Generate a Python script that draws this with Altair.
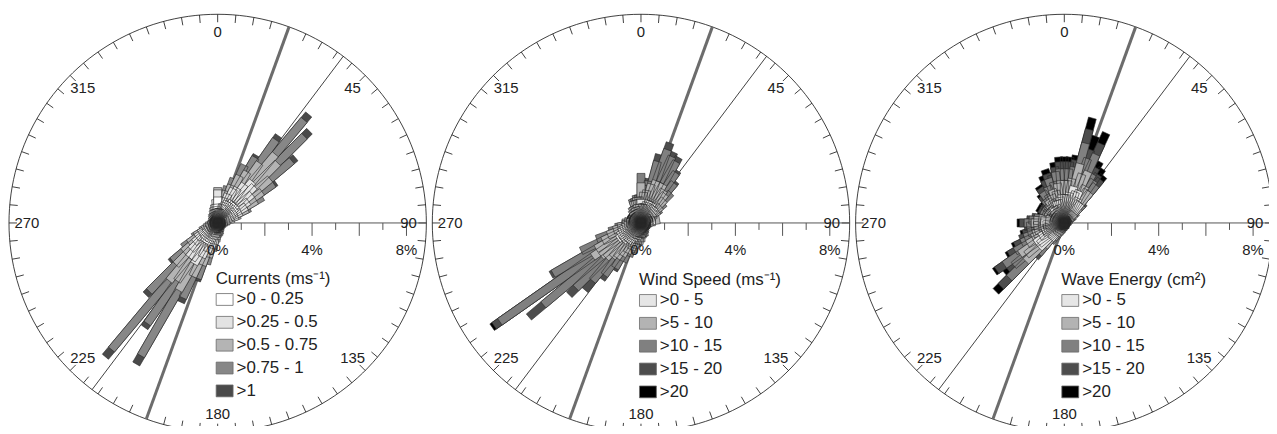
import altair as alt
import pandas as pd

# ---------------- data ----------------
DIRS = list(range(0, 360, 5))  # 5-degree direction bins

CUR_TITLE = "Currents (ms⁻¹)"
CUR_LABELS = [">0 - 0.25", ">0.25 - 0.5", ">0.5 - 0.75", ">0.75 - 1", ">1"]
CUR_COLORS = ["#ffffff", "#e3e3e3", "#b4b4b4", "#878787", "#4a4a4a"]
CUR_1 = [1.1, 0.6, 0.6, 0.8, 0.9, 1.0, 1.0, 1.1, 1.1, 1.1, 1.0, 0.9,
         0.8, 0.7, 0.6, 0.5, 0.4, 0.3, 0.3, 0.3, 0.3, 0.25, 0.25, 0.3,
         0.3, 0.25, 0.3, 0.3, 0.3, 0.35, 0.3, 0.3, 0.35, 0.4, 0.4, 0.45,
         0.4, 0.5, 0.6, 0.7, 0.8, 0.9, 1.0, 1.0, 0.9, 0.8, 0.7, 0.6,
         0.5, 0.5, 0.4, 0.4, 0.3, 0.3, 0.3, 0.3, 0.3, 0.3, 0.3, 0.3,
         0.3, 0.35, 0.35, 0.4, 0.4, 0.45, 0.5, 0.5, 0.6, 0.6, 0.7, 0.8]
CUR_2 = [0.3, 0.2, 0.2, 0.3, 0.4, 0.6, 0.7, 0.9, 1.2, 1.1, 0.9, 0.7,
         0.6, 0.4, 0.3, 0.2, 0.1, 0.1, 0.05, 0, 0, 0, 0, 0,
         0, 0, 0, 0, 0, 0, 0, 0, 0, 0, 0.1, 0.1,
         0.2, 0.2, 0.3, 0.4, 0.5, 0.7, 1.0, 0.9, 1.0, 0.8, 0.6, 0.5,
         0.4, 0.2, 0.2, 0.1, 0.1, 0.05, 0, 0, 0, 0, 0, 0,
         0, 0, 0, 0, 0, 0, 0, 0, 0, 0.1, 0.1, 0.2]
CUR_3 = [0.1, 0, 0.1, 0.3, 0.4, 0.6, 0.8, 1.1, 1.5, 1.4, 1.0, 0.7,
         0.5, 0.3, 0.1, 0, 0, 0, 0, 0, 0, 0, 0, 0,
         0, 0, 0, 0, 0, 0, 0, 0, 0, 0, 0, 0,
         0, 0.1, 0.2, 0.4, 0.6, 0.9, 1.3, 1.1, 1.3, 0.9, 0.6, 0.4,
         0.2, 0.1, 0, 0, 0, 0, 0, 0, 0, 0, 0, 0,
         0, 0, 0, 0, 0, 0, 0, 0, 0, 0, 0, 0]
CUR_4 = [0, 0, 0, 0.2, 0.3, 0.5, 0.7, 1.2, 1.9, 1.6, 1.2, 0.6,
         0.3, 0.1, 0, 0, 0, 0, 0, 0, 0, 0, 0, 0,
         0, 0, 0, 0, 0, 0, 0, 0, 0, 0, 0, 0,
         0, 0, 0.1, 0.3, 0.6, 1.0, 3.2, 2.2, 3.8, 1.6, 0.6, 0.3,
         0.1, 0, 0, 0, 0, 0, 0, 0, 0, 0, 0, 0,
         0, 0, 0, 0, 0, 0, 0, 0, 0, 0, 0, 0]
CUR_5 = [0, 0, 0, 0, 0, 0, 0.1, 0.2, 0.3, 0.3, 0.2, 0.1,
         0, 0, 0, 0, 0, 0, 0, 0, 0, 0, 0, 0,
         0, 0, 0, 0, 0, 0, 0, 0, 0, 0, 0, 0,
         0, 0, 0, 0, 0.1, 0.2, 0.4, 0.2, 0.4, 0.2, 0.1, 0,
         0, 0, 0, 0, 0, 0, 0, 0, 0, 0, 0, 0,
         0, 0, 0, 0, 0, 0, 0, 0, 0, 0, 0, 0]

WIND_TITLE = "Wind Speed (ms⁻¹)"
WIND_LABELS = [">0 - 5", ">5 - 10", ">10 - 15", ">15 - 20", ">20"]
WIND_COLORS = ["#e6e6e6", "#b3b3b3", "#808080", "#4d4d4d", "#000000"]
WIND_1 = [1.0, 0.8, 0.8, 0.9, 1.0, 1.0, 1.0, 0.9, 0.9, 0.8, 0.7, 0.6,
          0.5, 0.5, 0.4, 0.5, 0.6, 0.5, 0.4, 0.4, 0.4, 0.35, 0.35, 0.35,
          0.35, 0.35, 0.4, 0.35, 0.4, 0.4, 0.4, 0.45, 0.45, 0.5, 0.5, 0.55,
          0.6, 0.6, 0.6, 0.7, 0.7, 0.8, 0.9, 1.0, 1.0, 1.1, 1.1, 1.2,
          1.1, 1.0, 0.9, 0.8, 0.7, 0.6, 0.6, 0.5, 0.5, 0.5, 0.5, 0.5,
          0.5, 0.5, 0.5, 0.5, 0.5, 0.6, 0.6, 0.6, 0.7, 0.7, 0.8, 0.8]
WIND_2 = [0.7, 0.5, 0.6, 0.8, 0.9, 0.9, 0.9, 0.8, 0.7, 0.6, 0.4, 0.3,
          0.2, 0.1, 0.1, 0.1, 0.2, 0.1, 0.05, 0, 0, 0, 0, 0,
          0, 0, 0, 0, 0, 0, 0, 0, 0.05, 0.1, 0.1, 0.1,
          0.2, 0.3, 0.3, 0.4, 0.5, 0.6, 0.7, 0.8, 0.9, 1.0, 1.1, 1.3,
          1.1, 0.8, 0.6, 0.4, 0.3, 0.2, 0.2, 0.2, 0.1, 0.1, 0.1, 0.1,
          0.1, 0.1, 0.1, 0.1, 0.1, 0.1, 0.2, 0.2, 0.3, 0.3, 0.3, 0.3]
WIND_3 = [0.4, 0.3, 0.4, 1.0, 1.4, 1.2, 1.1, 0.9, 0.6, 0.4, 0.2, 0.1,
          0, 0, 0, 0, 0, 0, 0, 0, 0, 0, 0, 0,
          0, 0, 0, 0, 0, 0, 0, 0, 0, 0, 0, 0,
          0, 0, 0.1, 0.2, 0.3, 0.4, 0.6, 0.9, 1.3, 1.8, 3.2, 4.8,
          2.1, 1.0, 0.5, 0.2, 0.1, 0, 0, 0, 0, 0, 0, 0,
          0, 0, 0, 0, 0, 0, 0, 0, 0.1, 0.1, 0.1, 0.1]
WIND_4 = [0, 0, 0.1, 0.3, 0.3, 0.2, 0.2, 0.1, 0.1, 0, 0, 0,
          0, 0, 0, 0, 0, 0, 0, 0, 0, 0, 0, 0,
          0, 0, 0, 0, 0, 0, 0, 0, 0, 0, 0, 0,
          0, 0, 0, 0, 0, 0, 0.1, 0.2, 0.5, 0.4, 0.8, 0.3,
          0.1, 0, 0, 0, 0, 0, 0, 0, 0, 0, 0, 0,
          0, 0, 0, 0, 0, 0, 0, 0, 0, 0, 0, 0]
WIND_5 = [0, 0, 0, 0, 0, 0, 0, 0, 0, 0, 0, 0,
          0, 0, 0, 0, 0, 0, 0, 0, 0, 0, 0, 0,
          0, 0, 0, 0, 0, 0, 0, 0, 0, 0, 0, 0,
          0, 0, 0, 0, 0, 0, 0, 0, 0, 0, 0, 0.1,
          0, 0, 0, 0, 0, 0, 0, 0, 0, 0, 0, 0,
          0, 0, 0, 0, 0, 0, 0, 0, 0, 0, 0, 0]

WAVE_TITLE = "Wave Energy (cm²)"
WAVE_LABELS = [">0 - 5", ">5 - 10", ">10 - 15", ">15 - 20", ">20"]
WAVE_COLORS = ["#e6e6e6", "#b3b3b3", "#808080", "#4d4d4d", "#000000"]
WAVE_1 = [1.2, 1.2, 1.3, 1.6, 1.4, 1.5, 1.2, 1.1, 1.1, 0.6, 0.4, 0.3,
          0.3, 0.3, 0.25, 0.25, 0.2, 0.2, 0.2, 0.2, 0.2, 0.2, 0.2, 0.2,
          0.2, 0.2, 0.2, 0.2, 0.2, 0.2, 0.2, 0.2, 0.2, 0.2, 0.25, 0.25,
          0.25, 0.25, 0.3, 0.3, 0.35, 0.4, 0.5, 0.6, 0.9, 1.5, 1.4, 1.5,
          1.2, 1.0, 1.0, 0.9, 0.8, 0.9, 1.0, 1.0, 0.8, 0.6, 0.5, 0.6,
          0.6, 0.5, 0.6, 0.6, 0.7, 0.8, 0.7, 0.8, 1.0, 1.0, 1.1, 1.2]
WAVE_2 = [0.6, 0.6, 0.6, 1.0, 0.8, 0.9, 0.6, 0.6, 0.6, 0.3, 0.2, 0.1,
          0, 0, 0, 0, 0, 0, 0, 0, 0, 0, 0, 0,
          0, 0, 0, 0, 0, 0, 0, 0, 0, 0, 0, 0,
          0, 0, 0, 0, 0.05, 0.1, 0.1, 0.2, 0.4, 0.8, 0.7, 0.8,
          0.6, 0.5, 0.4, 0.4, 0.3, 0.4, 0.4, 0.3, 0.3, 0.2, 0.2, 0.2,
          0.3, 0.2, 0.3, 0.3, 0.3, 0.4, 0.4, 0.5, 0.5, 0.4, 0.6, 0.6]
WAVE_3 = [0.5, 0.5, 0.5, 0.9, 0.7, 0.8, 0.6, 0.5, 0.4, 0.2, 0.1, 0.1,
          0, 0, 0, 0, 0, 0, 0, 0, 0, 0, 0, 0,
          0, 0, 0, 0, 0, 0, 0, 0, 0, 0, 0, 0,
          0, 0, 0, 0, 0, 0, 0.1, 0.2, 0.4, 1.0, 0.7, 0.8,
          0.6, 0.5, 0.4, 0.3, 0.3, 0.3, 0.3, 0.2, 0.2, 0.1, 0.1, 0.2,
          0.2, 0.2, 0.2, 0.2, 0.3, 0.4, 0.3, 0.4, 0.5, 0.4, 0.5, 0.5]
WAVE_4 = [0.3, 0.3, 0.3, 0.6, 0.4, 0.5, 0.3, 0.3, 0.3, 0.1, 0, 0,
          0, 0, 0, 0, 0, 0, 0, 0, 0, 0, 0, 0,
          0, 0, 0, 0, 0, 0, 0, 0, 0, 0, 0, 0,
          0, 0, 0, 0, 0, 0, 0, 0, 0.2, 0.5, 0.3, 0.4,
          0.3, 0.3, 0.2, 0.2, 0.1, 0.1, 0.2, 0.1, 0.1, 0, 0.1, 0.1,
          0.1, 0.1, 0.1, 0.1, 0.2, 0.2, 0.1, 0.3, 0.2, 0.3, 0.2, 0.3]
WAVE_5 = [0.2, 0.2, 0.2, 0.5, 0.6, 0.5, 0.3, 0.3, 0.2, 0, 0, 0,
          0, 0, 0, 0, 0, 0, 0, 0, 0, 0, 0, 0,
          0, 0, 0, 0, 0, 0, 0, 0, 0, 0, 0, 0,
          0, 0, 0, 0, 0, 0, 0, 0, 0, 0.3, 0.2, 0.1,
          0.1, 0.1, 0, 0.1, 0, 0, 0.1, 0, 0, 0, 0.2, 0.1,
          0.1, 0, 0, 0.1, 0.1, 0.1, 0.1, 0.2, 0.2, 0.1, 0.2, 0.2]

DEG_LABELS = [0, 45, 90, 135, 180, 225, 270, 315]
PCT_TICKS = [1, 2, 3, 4, 5, 6, 7, 8]
PCT_LABELS = [0, 4, 8]
REF_ANGLES = [37, 20]

# ---------------- styling / geometry ----------------
FONT = "Liberation Sans"
PX = 23.75            # pixels per 1 %
R_PX = 210            # outer circle radius in pixels
D = R_PX / PX         # outer circle radius in % units
BAR_W = 8             # bar width in pixels
HALF = (BAR_W / 2) / PX
OUTLINE = "#262626"
OUT_W = 0.6
RAD = "*PI/180"
DRAW_ORDER = list(range(1, len(DIRS))) + [0]   # 5, 10, ..., 355, 0


def make_panel(cx, cy, title, labels, colors, series, lx, ly):
    xs = alt.Scale(domain=[-D, D], range=[cx - R_PX, cx + R_PX], nice=False, zero=False)
    ys = alt.Scale(domain=[-D, D], range=[cy + R_PX, cy - R_PX], nice=False, zero=False)

    def X(f):
        return alt.X(f, type="quantitative", scale=xs, axis=None)

    def Y(f):
        return alt.Y(f, type="quantitative", scale=ys, axis=None)

    # outer circle
    ring = alt.Chart(pd.DataFrame({"deg": list(range(0, 361, 2))})).transform_calculate(
        x=f"{D}*sin(datum.deg{RAD})", y=f"{D}*cos(datum.deg{RAD})"
    ).mark_line(color="#111111", strokeWidth=0.8).encode(x=X("x"), y=Y("y"), order="deg:Q")

    # ticks around the circle
    tl = 8 / PX
    ticks = alt.Chart(pd.DataFrame({"deg": DIRS})).transform_calculate(
        x0=f"{D - tl}*sin(datum.deg{RAD})", y0=f"{D - tl}*cos(datum.deg{RAD})",
        x1=f"{D}*sin(datum.deg{RAD})", y1=f"{D}*cos(datum.deg{RAD})",
    ).mark_rule(color="#111111", strokeWidth=0.8).encode(
        x=X("x0"), y=Y("y0"), x2="x1:Q", y2="y1:Q")

    # reference lines
    ref = alt.Chart(pd.DataFrame({"ang": REF_ANGLES, "w": [0.8, 3.0],
                                  "c": ["#111111", "#6c6c6c"]})).transform_calculate(
        x0=f"{D}*sin(datum.ang{RAD})", y0=f"{D}*cos(datum.ang{RAD})",
        x1=f"-{D}*sin(datum.ang{RAD})", y1=f"-{D}*cos(datum.ang{RAD})",
    ).mark_rule().encode(
        x=X("x0"), y=Y("y0"), x2="x1:Q", y2="y1:Q",
        stroke=alt.Stroke("c:N", scale=None),
        strokeWidth=alt.StrokeWidth("w:Q", scale=None))

    # radial axis along 90 degrees
    axis_line = alt.Chart(pd.DataFrame({"a": [0.0], "b": [D]})).transform_calculate(
        y0="0").mark_rule(color="#555555", strokeWidth=1).encode(
        x=X("a"), x2="b:Q", y=Y("y0"))
    axis_ticks = alt.Chart(pd.DataFrame({"pct": PCT_TICKS})).transform_calculate(
        y0="0", y1=f"datum.pct % 2 == 0 ? {-13 / PX} : {-7 / PX}"
    ).mark_rule(color="#555555", strokeWidth=1).encode(x=X("pct"), y=Y("y0"), y2="y1:Q")
    axis_labels = alt.Chart(pd.DataFrame({"pct": PCT_LABELS})).transform_calculate(
        y0=f"{-27 / PX}", lab="datum.pct + '%'"
    ).mark_text(font=FONT, fontSize=15, color="#222222", align="center",
                baseline="middle").encode(x=X("pct"), y=Y("y0"), text="lab:N")

    # degree labels
    rl = 192 / PX
    deg_labels = alt.Chart(pd.DataFrame({"deg": DEG_LABELS})).transform_calculate(
        x=f"{rl}*sin(datum.deg{RAD})", y=f"{rl}*cos(datum.deg{RAD})", lab="'' + datum.deg"
    ).mark_text(font=FONT, fontSize=15, color="#222222", align="center",
                baseline="middle").encode(x=X("x"), y=Y("y"), text="lab:N")

    # bars: cumulative rectangles, outermost class first;
    # per class all fills are drawn, then all outlines
    rows = []
    n = 0
    for k in reversed(range(len(series))):
        fills, lines = [], []
        for i in DRAW_ORDER:
            d = DIRS[i]
            vals = [s[i] for s in series]
            if vals[k] <= 0:
                continue
            top = sum(vals[:k + 1])
            fills.append((d, 0.0, top, 0.0, 0.0, colors[k], BAR_W))
            lines += [
                (d, 0.0, top, -HALF, -HALF, OUTLINE, OUT_W),   # left edge
                (d, 0.0, top, HALF, HALF, OUTLINE, OUT_W),     # right edge
                (d, top, top, -HALF, HALF, OUTLINE, OUT_W),    # outer end
                (d, 0.0, 0.0, -HALF, HALF, OUTLINE, OUT_W),    # inner end
            ]
        for d, r0, r1, o0, o1, col, sw in fills + lines:
            rows.append(dict(dir=d, r0=r0, r1=r1, o0=o0, o1=o1, col=col, sw=sw, ord=n))
            n += 1
    bars = alt.Chart(pd.DataFrame(rows)).transform_calculate(
        x0=f"datum.r0*sin(datum.dir{RAD}) + datum.o0*cos(datum.dir{RAD})",
        y0=f"datum.r0*cos(datum.dir{RAD}) - datum.o0*sin(datum.dir{RAD})",
        x1=f"datum.r1*sin(datum.dir{RAD}) + datum.o1*cos(datum.dir{RAD})",
        y1=f"datum.r1*cos(datum.dir{RAD}) - datum.o1*sin(datum.dir{RAD})",
    ).mark_rule(strokeCap="butt").encode(
        x=X("x0"), y=Y("y0"), x2="x1:Q", y2="y1:Q",
        stroke=alt.Stroke("col:N", scale=None),
        strokeWidth=alt.StrokeWidth("sw:Q", scale=None),
        order=alt.Order("ord:Q"))

    # legend (invisible marks, visible legend)
    leg = alt.Chart(pd.DataFrame({"label": labels, "z": [0.0] * len(labels)})).mark_square(
        opacity=0, size=1).encode(
        x=X("z"), y=Y("z"),
        fill=alt.Fill("label:N", scale=alt.Scale(domain=labels, range=colors),
                      legend=alt.Legend(
                          title=title, orient="none", legendX=lx, legendY=ly,
                          titleFont=FONT, titleFontSize=17, titleFontWeight="normal",
                          titleColor="#222222", titlePadding=3, titleLimit=400,
                          labelFont=FONT, labelFontSize=17, labelColor="#222222",
                          labelOffset=3, labelLimit=300,
                          symbolType="M-1,-0.7L1,-0.7L1,0.7L-1,0.7Z", symbolSize=289,
                          symbolStrokeColor="#6a6a6a", symbolStrokeWidth=0.8,
                          symbolOpacity=1, rowPadding=6, padding=0)))

    return alt.layer(ring, ticks, ref, axis_line, axis_ticks, bars,
                     deg_labels, axis_labels, leg)


p1 = make_panel(211, 215, CUR_TITLE, CUR_LABELS, CUR_COLORS,
                [CUR_1, CUR_2, CUR_3, CUR_4, CUR_5], 209, 263)
p2 = make_panel(637, 215, WIND_TITLE, WIND_LABELS, WIND_COLORS,
                [WIND_1, WIND_2, WIND_3, WIND_4, WIND_5], 635, 264)
p3 = make_panel(1063, 215, WAVE_TITLE, WAVE_LABELS, WAVE_COLORS,
                [WAVE_1, WAVE_2, WAVE_3, WAVE_4, WAVE_5], 1060, 264)

chart = alt.layer(p1, p2, p3).resolve_scale(
    x="independent", y="independent", fill="independent"
).properties(
    width=1269, height=418, padding=0,
    autosize=alt.AutoSizeParams(type="none"),
    background="white",
).configure_view(stroke=None)

chart.save("out.html", embed_options={"renderer": "svg", "actions": False})
